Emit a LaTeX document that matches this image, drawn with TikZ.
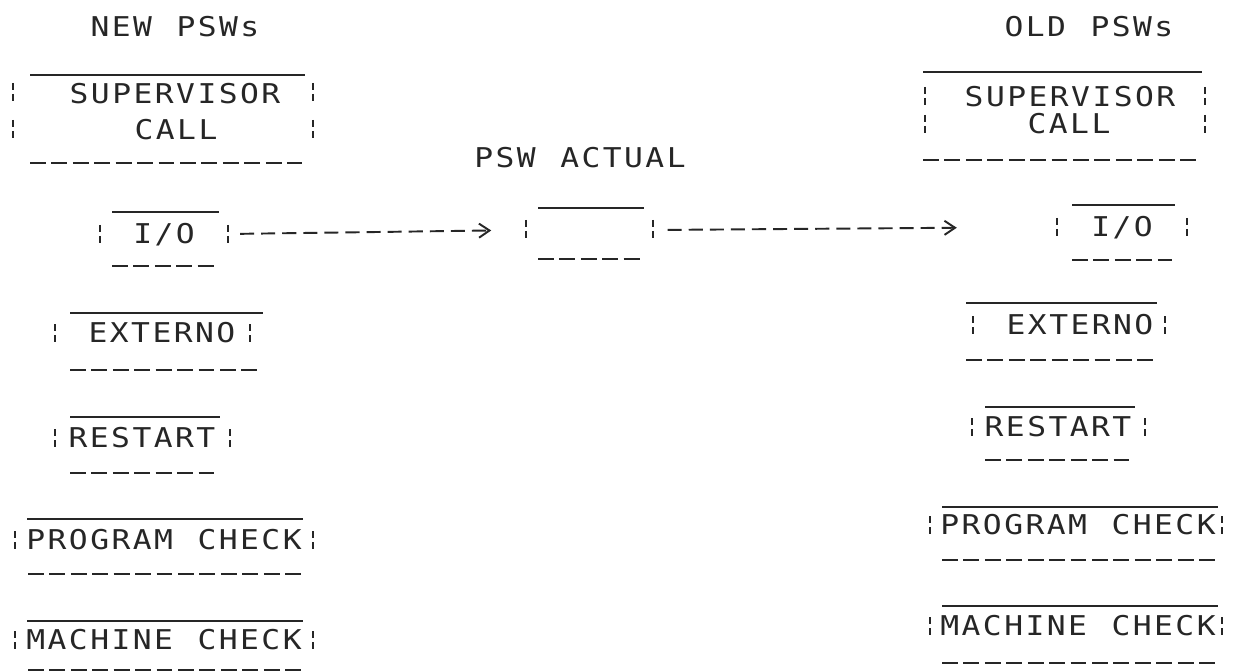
\documentclass[tikz,border=0pt]{standalone}
\usepackage{fontspec}
\usetikzlibrary{arrows.meta}
\newfontfamily\dmfont[FakeStretch=1.15,LetterSpace=9,WordSpace=1.15]{DejaVu Sans Mono}
\definecolor{ink}{HTML}{262626}
\newcommand\mybar[2]{\draw[barln] (#1,#2-9) -- (#1,#2-2) (#1,#2+2) -- (#1,#2+9);}
\newcommand\mytop[3]{\draw[topln] (#1,#3) -- (#2,#3);}
\newcommand\mybot[3]{\draw[botln] (#1,#3) -- (#2,#3);}
\tikzset{
  lbl/.style={font={\dmfont\fontsize{15.5pt}{18pt}\selectfont}, text=ink, inner sep=0pt,
              text height=11.3pt, text depth=0pt},
  topln/.style={draw=ink, line width=1.1pt},
  botln/.style={draw=ink, line width=1.1pt, dash pattern=on 9pt off 3.2pt},
  barln/.style={draw=ink, line width=1.3pt},
  conn/.style={draw=ink, line width=1.1pt, dash pattern=on 8pt off 4pt,
               -{Straight Barb[length=6pt,width=8pt]}},
  frame/.style={inner sep=0pt, minimum height=20pt}
}
\begin{document}
\begin{tikzpicture}[x=0.02cm,y=-0.02cm]
\fill[white] (0,0) rectangle (1234,672);
\useasboundingbox (0,0) rectangle (1234,672);

% titles
\node[lbl] (newt) at (175,27) {NEW PSWs};
\node[lbl] (oldt) at (1089,27) {OLD PSWs};
\node[lbl] (pswt) at (580,158) {PSW ACTUAL};

% ---------- left column ----------
\node[lbl] (lsup) at (175,94) {SUPERVISOR};
\node[lbl] (lcall) at (176,130) {CALL};
\mytop{30}{305}{75} \mybot{30}{302}{163}
\mybar{13}{92} \mybar{13}{129} \mybar{313}{92} \mybar{313}{129}

\node[lbl, minimum width=72.6pt] (lio) at (164,234) {I/O};
\mytop{112}{219}{212} \mybot{112}{217}{266}
\mybar{100}{234} \mybar{228}{234}

\node[lbl] (lext) at (162,333) {EXTERNO};
\mytop{70}{263}{313} \mybot{70}{258}{370}
\mybar{55}{333} \mybar{250}{333}

\node[lbl] (lres) at (142,438) {RESTART};
\mytop{70}{220}{417} \mybot{70}{215}{473}
\mybar{55}{438} \mybar{230}{438}

\node[lbl] (lprg) at (164,540) {PROGRAM CHECK};
\mytop{27}{303}{519} \mybot{28}{302}{574}
\mybar{15}{540} \mybar{313}{540}

\node[lbl] (lmch) at (164,640) {MACHINE CHECK};
\mytop{27}{303}{621} \mybot{28}{302}{670}
\mybar{15}{640} \mybar{313}{640}

% ---------- centre ----------
\node[frame, minimum width=72pt] (psw) at (590,230) {};
\mytop{538}{644}{208} \mybot{538}{643}{259}
\mybar{526}{229} \mybar{653}{229}

% ---------- right column ----------
\node[lbl] (rsup) at (1070,97) {SUPERVISOR};
\node[lbl] (rcall) at (1069,124) {CALL};
\mytop{923}{1202}{72} \mybot{923}{1200}{160}
\mybar{925}{96} \mybar{925}{124} \mybar{1205}{96} \mybar{1205}{124}

\node[lbl, minimum width=73.7pt] (rio) at (1122,227) {I/O};
\mytop{1072}{1175}{205} \mybot{1072}{1172}{260}
\mybar{1057}{227} \mybar{1187}{227}

\node[lbl] (rext) at (1080,325) {EXTERNO};
\mytop{966}{1157}{303} \mybot{966}{1155}{360}
\mybar{973}{325} \mybar{1165}{325}

\node[lbl] (rres) at (1058,427) {RESTART};
\mytop{985}{1135}{407} \mybot{985}{1130}{460}
\mybar{972}{427} \mybar{1145}{427}

\node[lbl] (rprg) at (1078,525) {PROGRAM CHECK};
\mytop{942}{1218}{507} \mybot{942}{1215}{560}
\mybar{930}{525} \mybar{1222}{525}

\node[lbl] (rmch) at (1078,626) {MACHINE CHECK};
\mytop{942}{1218}{606} \mybot{942}{1215}{663}
\mybar{930}{626} \mybar{1222}{626}

% ---------- connectors ----------
\draw[conn, shorten <=6.8pt, shorten >=20pt] (lio.east) -- (psw.west);
\draw[conn, shorten <=8pt, shorten >=57pt] (psw.east) -- (rio.west);
\end{tikzpicture}
\end{document}
